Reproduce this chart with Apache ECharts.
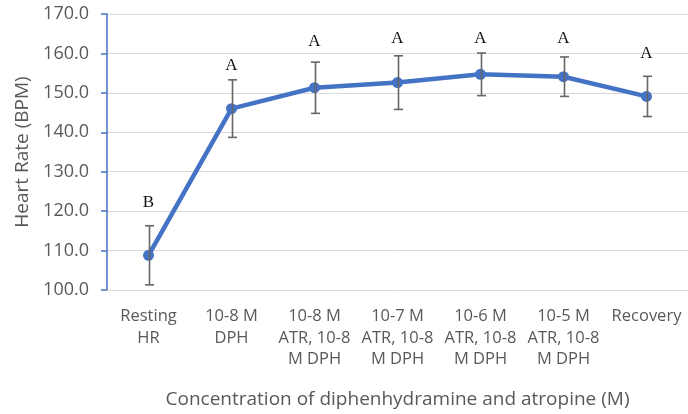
<!DOCTYPE html>
<html><head><meta charset="utf-8">
<script src="https://cdn.jsdelivr.net/npm/echarts@6/dist/echarts.min.js"></script>
<style>html,body{margin:0;padding:0;background:#fff}#c{width:688px;height:414px}</style>
</head><body><div id="c"></div>
<script>
const categories = ["Resting\nHR", "10-8 M\nDPH", "10-8 M\nATR, 10-8\nM DPH", "10-7 M\nATR, 10-8\nM DPH", "10-6 M\nATR, 10-8\nM DPH", "10-5 M\nATR, 10-8\nM DPH", "Recovery"];
const meanHR = [108.8, 146.0, 151.3, 152.6, 154.7, 154.1, 149.1];
const errHR = [7.5, 7.3, 6.5, 6.8, 5.4, 5.0, 5.1];
const letters = ["B", "A", "A", "A", "A", "A", "A"];
const letterPos = [122.2, 156.9, 162.9, 163.7, 163.7, 163.7, 159.9];
const yTicks = [100, 110, 120, 130, 140, 150, 160, 170];

const chart = echarts.init(document.getElementById('c'), null, {renderer: 'canvas'});
const gray = '#595959';
const ff = 'Open Sans, Liberation Sans, sans-serif';
chart.setOption({
  animation: false,
  grid: {left: 107, top: 14, bottom: 123, width: 584, containLabel: false},
  xAxis: {
    type: 'category', data: categories, boundaryGap: true,
    axisLine: {show: true, lineStyle: {color: '#d9d9d9', width: 1}},
    axisTick: {show: false},
    axisLabel: {color: gray, fontFamily: ff, fontSize: 16.5, lineHeight: 21.5, margin: 16, interval: 0},
    name: 'Concentration of diphenhydramine and atropine (M)',
    nameLocation: 'middle', nameGap: 100,
    nameTextStyle: {color: gray, fontFamily: ff, fontSize: 19}
  },
  yAxis: {
    type: 'value', min: yTicks[0], max: yTicks[yTicks.length - 1], interval: 10,
    axisLine: {show: true, lineStyle: {color: '#4472C4', width: 1.5}},
    axisTick: {show: true, length: 6, lineStyle: {color: '#4472C4', width: 1.5}},
    splitLine: {show: true, lineStyle: {color: '#d9d9d9', width: 1}},
    axisLabel: {color: gray, fontFamily: ff, fontSize: 18, margin: 18, formatter: v => v.toFixed(1)},
    name: 'Heart Rate (BPM)', nameLocation: 'middle', nameGap: 71,
    nameTextStyle: {color: gray, fontFamily: ff, fontSize: 19}
  },
  series: [
    {
      type: 'line', data: meanHR, z: 3,
      lineStyle: {color: '#4472C4', width: 4.5},
      itemStyle: {color: '#4472C4'},
      symbol: 'circle', symbolSize: 11
    },
    {
      type: 'custom', z: 4,
      data: meanHR.map((m, i) => [i, m - errHR[i], m + errHR[i]]),
      renderItem: function (params, api) {
        const lo = api.coord([api.value(0), api.value(1)]);
        const hi = api.coord([api.value(0), api.value(2)]);
        const x = Math.round(lo[0]) + 0.5;
        const w = 4.5;
        const st = {stroke: '#666666', lineWidth: 1.6};
        return {type: 'group', children: [
          {type: 'line', shape: {x1: x, y1: hi[1], x2: x, y2: lo[1]}, style: st},
          {type: 'line', shape: {x1: x - w, y1: hi[1], x2: x + w, y2: hi[1]}, style: st},
          {type: 'line', shape: {x1: x - w, y1: lo[1], x2: x + w, y2: lo[1]}, style: st}
        ]};
      }
    },
    {
      type: 'custom', z: 5,
      data: letterPos.map((p, i) => [i, p, letters[i]]),
      renderItem: function (params, api) {
        const c = api.coord([api.value(0), api.value(1)]);
        return {type: 'text', style: {x: c[0], y: c[1], text: letters[params.dataIndex], align: 'center', verticalAlign: 'middle', fill: '#111', font: '17px "Liberation Serif", serif'}};
      }
    }
  ]
});
</script></body></html>
